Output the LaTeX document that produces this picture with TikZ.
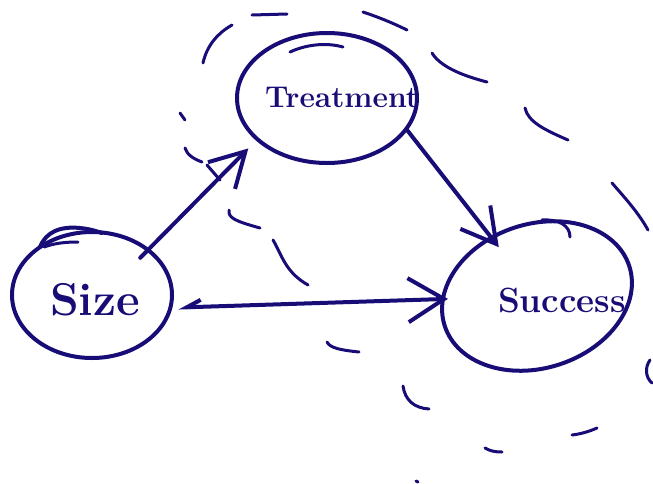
\documentclass[tikz,border=0pt]{standalone}
\usetikzlibrary{shapes.geometric,arrows.meta}
\definecolor{ink}{RGB}{24,12,118}
\begin{document}
\begin{tikzpicture}[x=1pt,y=-1pt, line cap=round, line join=round,
  pen/.style={draw=ink, line width=4pt},
  blob/.style={ellipse, pen, inner sep=0pt},
  hand/.style={text=ink, inner sep=0pt},
  arr/.style={pen, -{Straight Barb[length=34pt,width=38pt,line width=4pt]}},
  stroke/.style={draw=ink, line width=3pt}]
\useasboundingbox (0,0) rectangle (653,483);

% nodes
\node[blob, minimum width=160pt, minimum height=126pt] (size) at (92,295) {};
\node[blob, minimum width=180pt, minimum height=130pt] (treat) at (327,98) {};
\node[blob, minimum width=194pt, minimum height=144pt, rotate=18] (succ) at (537,296) {};

\node[hand, font=\bfseries\fontsize{46}{55}\selectfont] (sizelbl) at (95,300) {Size};
\node[hand, font=\bfseries\fontsize{30}{36}\selectfont] (treatlbl) at (342,97) {Treatment};
\node[hand, font=\bfseries\fontsize{35}{42}\selectfont] (succlbl) at (562,300) {Success};

% overlap strokes of the hand-drawn outlines
\draw[pen] (40,247) .. controls (46,232) and (60,226) .. (80,228) .. controls (90,229) and (96,231) .. (102,233);
\draw[stroke] (44,247) .. controls (55,243) and (66,242) .. (78,242);
\draw[stroke] (290,52) .. controls (305,45) and (325,42) .. (343,47);
\draw[stroke] (542,220) .. controls (558,219) and (570,225) .. (570,237);

% connectors
\draw[arr, shorten <=-13pt, shorten >=11pt] (size.39) -- (treat.211);
\draw[arr, shorten >=-14pt] (treat.-22) -- (succ);
\draw[pen, {Straight Barb[right,length=14pt,width=14pt,line width=4pt]}-{Straight Barb[length=36pt,width=44pt,line width=4pt]},
  shorten <=6pt, shorten >=-7pt] (size.-9) -- (succ);

% dashed enclosing loop (hand-drawn dashes)
\draw[stroke] (203,63) .. controls (207,45) and (218,33) .. (232,25);
\draw[stroke] (252,15) -- (287,14);
\draw[stroke] (363,12) .. controls (378,17) and (393,23) .. (407,30);
\draw[stroke] (432,53) .. controls (440,66) and (460,75) .. (487,82);
\draw[stroke] (525,108) .. controls (528,122) and (545,130) .. (568,140);
\draw[stroke] (612,183) .. controls (625,198) and (638,212) .. (648,230);
\draw[stroke] (650,360) .. controls (645,367) and (645,377) .. (652,383);
\draw[stroke] (572,435) .. controls (580,434) and (588,432) .. (597,428);
\draw[stroke] (485,448) .. controls (490,451) and (495,452) .. (502,452);
\draw[stroke] (416,481) -- (418,482);
\draw[stroke] (403,386) .. controls (405,400) and (414,408) .. (429,409);
\draw[stroke] (327,342) .. controls (330,348) and (340,350) .. (359,352);
\draw[stroke] (273,240) .. controls (282,255) and (285,272) .. (308,285);
\draw[stroke] (229,210) .. controls (228,218) and (235,221) .. (260,228);
\draw[stroke] (185,148) .. controls (187,155) and (194,159) .. (202,162);
\draw[stroke] (207,165) -- (220,180);
\draw[stroke] (180,113) -- (185,120);
\end{tikzpicture}
\end{document}
